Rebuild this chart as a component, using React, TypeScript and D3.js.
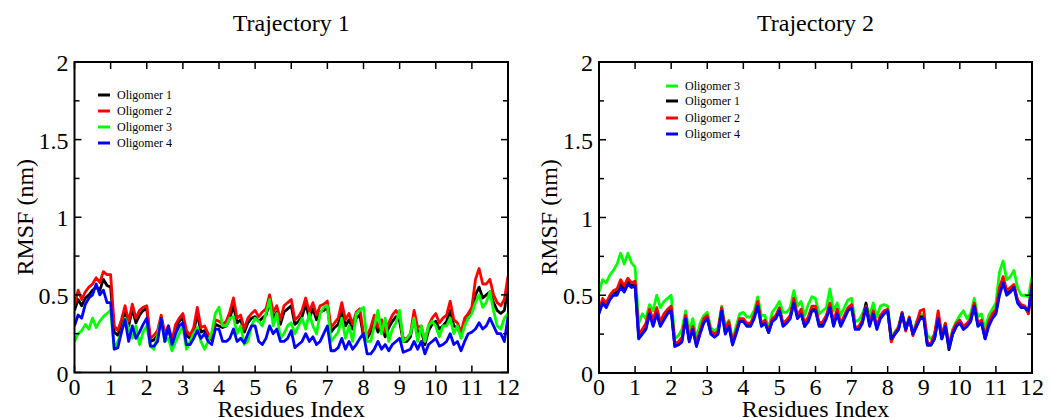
import React from "react";
import * as d3 from "d3";

// Residue index sampled every 0.1 from 0 to 12
const RESIDUE_INDEX: number[] = d3.range(0, 121).map((i) => i / 10);

const X_TICKS = [0, 1, 2, 3, 4, 5, 6, 7, 8, 9, 10, 11, 12];
const Y_MAJOR_TICKS = [0, 0.5, 1, 1.5, 2];
const Y_MINOR_TICKS = [0.25, 0.75, 1.25, 1.75];
const Y_TICK_LABELS = ["0", "0.5", "1", "1.5", "2"];

// Trajectory 1 RMSF (nm)
const T1_OLIGOMER_1 = [
  0.40, 0.47, 0.43, 0.48, 0.50, 0.53, 0.55, 0.53, 0.60, 0.56,
  0.55, 0.26, 0.24, 0.30, 0.40, 0.30, 0.41, 0.32, 0.37, 0.40,
  0.41, 0.20, 0.21, 0.24, 0.35, 0.23, 0.28, 0.19, 0.29, 0.33,
  0.35, 0.24, 0.22, 0.26, 0.38, 0.26, 0.27, 0.23, 0.21, 0.31,
  0.30, 0.29, 0.30, 0.35, 0.43, 0.32, 0.34, 0.26, 0.32, 0.35,
  0.36, 0.33, 0.35, 0.37, 0.45, 0.35, 0.39, 0.31, 0.39, 0.41,
  0.43, 0.31, 0.33, 0.36, 0.44, 0.35, 0.41, 0.34, 0.39, 0.40,
  0.42, 0.26, 0.29, 0.31, 0.40, 0.30, 0.34, 0.28, 0.35, 0.37,
  0.23, 0.22, 0.26, 0.33, 0.26, 0.31, 0.23, 0.29, 0.33, 0.36,
  0.33, 0.20, 0.20, 0.23, 0.36, 0.26, 0.27, 0.18, 0.27, 0.31,
  0.33, 0.28, 0.30, 0.33, 0.40, 0.30, 0.29, 0.24, 0.32, 0.35,
  0.40, 0.50, 0.55, 0.48, 0.50, 0.52, 0.45, 0.40, 0.38, 0.40,
  0.55,
];
const T1_OLIGOMER_2 = [
  0.43, 0.53, 0.47, 0.52, 0.55, 0.57, 0.61, 0.58, 0.65, 0.63,
  0.63, 0.30, 0.27, 0.34, 0.43, 0.33, 0.44, 0.35, 0.40, 0.42,
  0.43, 0.22, 0.24, 0.27, 0.37, 0.25, 0.30, 0.21, 0.31, 0.35,
  0.38, 0.27, 0.24, 0.29, 0.42, 0.29, 0.30, 0.25, 0.22, 0.34,
  0.33, 0.31, 0.33, 0.39, 0.48, 0.35, 0.37, 0.28, 0.35, 0.38,
  0.40, 0.36, 0.39, 0.41, 0.50, 0.39, 0.43, 0.34, 0.43, 0.45,
  0.47, 0.34, 0.36, 0.40, 0.48, 0.39, 0.45, 0.37, 0.43, 0.44,
  0.46, 0.29, 0.32, 0.35, 0.45, 0.34, 0.38, 0.31, 0.39, 0.41,
  0.25, 0.24, 0.29, 0.37, 0.29, 0.34, 0.26, 0.32, 0.37, 0.40,
  0.36, 0.22, 0.22, 0.25, 0.40, 0.29, 0.30, 0.20, 0.30, 0.35,
  0.38, 0.32, 0.35, 0.37, 0.46, 0.34, 0.32, 0.26, 0.35, 0.38,
  0.42, 0.60, 0.67, 0.57, 0.57, 0.60, 0.50, 0.45, 0.43, 0.47,
  0.62,
];
const T1_OLIGOMER_3 = [
  0.20, 0.25, 0.27, 0.31, 0.28, 0.35, 0.29, 0.33, 0.36, 0.38,
  0.40, 0.15, 0.20, 0.26, 0.35, 0.28, 0.22, 0.30, 0.18, 0.26,
  0.30, 0.17, 0.15, 0.24, 0.35, 0.20, 0.22, 0.14, 0.20, 0.25,
  0.30, 0.15, 0.20, 0.25, 0.29, 0.20, 0.15, 0.20, 0.26, 0.38,
  0.42, 0.30, 0.30, 0.35, 0.36, 0.25, 0.30, 0.18, 0.20, 0.30,
  0.35, 0.33, 0.30, 0.38, 0.47, 0.30, 0.38, 0.22, 0.25, 0.30,
  0.32, 0.25, 0.30, 0.35, 0.28, 0.38, 0.30, 0.25, 0.38, 0.42,
  0.43, 0.20, 0.23, 0.26, 0.35, 0.22, 0.30, 0.20, 0.38, 0.40,
  0.42, 0.20, 0.20, 0.30, 0.40, 0.25, 0.35, 0.20, 0.28, 0.32,
  0.40, 0.20, 0.22, 0.25, 0.35, 0.20, 0.30, 0.20, 0.30, 0.33,
  0.30, 0.23, 0.30, 0.30, 0.35, 0.25, 0.30, 0.22, 0.30, 0.35,
  0.38, 0.45, 0.50, 0.42, 0.45, 0.52, 0.40, 0.30, 0.28, 0.35,
  0.38,
];
const T1_OLIGOMER_4 = [
  0.30, 0.37, 0.35, 0.44, 0.48, 0.50, 0.57, 0.50, 0.53, 0.45,
  0.45, 0.15, 0.16, 0.26, 0.34, 0.20, 0.30, 0.22, 0.26, 0.31,
  0.35, 0.17, 0.17, 0.20, 0.35, 0.20, 0.30, 0.18, 0.25, 0.30,
  0.32, 0.18, 0.18, 0.22, 0.27, 0.22, 0.25, 0.20, 0.18, 0.28,
  0.28, 0.20, 0.20, 0.22, 0.28, 0.20, 0.22, 0.19, 0.25, 0.30,
  0.30, 0.20, 0.18, 0.22, 0.30, 0.25, 0.28, 0.20, 0.20, 0.22,
  0.27, 0.16, 0.18, 0.20, 0.25, 0.20, 0.23, 0.18, 0.20, 0.25,
  0.30, 0.14, 0.14, 0.16, 0.22, 0.15, 0.20, 0.15, 0.18, 0.22,
  0.25, 0.12, 0.12, 0.15, 0.20, 0.15, 0.18, 0.14, 0.18, 0.20,
  0.22, 0.13, 0.14, 0.15, 0.20, 0.15, 0.20, 0.12, 0.18, 0.20,
  0.22, 0.17, 0.18, 0.20, 0.25, 0.18, 0.20, 0.14, 0.20, 0.25,
  0.26, 0.28, 0.32, 0.28, 0.30, 0.35, 0.30, 0.25, 0.25, 0.20,
  0.36,
];

// Trajectory 2 RMSF (nm)
const T2_OLIGOMER_1 = [
  0.39, 0.46, 0.43, 0.48, 0.51, 0.52, 0.57, 0.54, 0.59, 0.56,
  0.57, 0.23, 0.26, 0.29, 0.39, 0.31, 0.39, 0.31, 0.35, 0.39,
  0.41, 0.18, 0.19, 0.21, 0.36, 0.21, 0.29, 0.18, 0.26, 0.33,
  0.36, 0.26, 0.24, 0.26, 0.41, 0.26, 0.31, 0.19, 0.26, 0.34,
  0.34, 0.31, 0.31, 0.36, 0.44, 0.31, 0.33, 0.26, 0.34, 0.36,
  0.41, 0.31, 0.33, 0.36, 0.46, 0.36, 0.39, 0.30, 0.34, 0.41,
  0.41, 0.31, 0.31, 0.36, 0.43, 0.31, 0.39, 0.31, 0.36, 0.41,
  0.43, 0.29, 0.29, 0.33, 0.45, 0.31, 0.39, 0.29, 0.36, 0.39,
  0.40, 0.21, 0.25, 0.28, 0.38, 0.28, 0.35, 0.25, 0.30, 0.36,
  0.36, 0.18, 0.18, 0.22, 0.36, 0.22, 0.30, 0.15, 0.25, 0.30,
  0.33, 0.29, 0.31, 0.34, 0.44, 0.31, 0.33, 0.22, 0.31, 0.36,
  0.39, 0.52, 0.60, 0.51, 0.53, 0.56, 0.46, 0.43, 0.42, 0.39,
  0.56,
];
const T2_OLIGOMER_2 = [
  0.40, 0.48, 0.45, 0.50, 0.53, 0.54, 0.60, 0.56, 0.61, 0.58,
  0.59, 0.25, 0.28, 0.32, 0.41, 0.34, 0.42, 0.33, 0.38, 0.41,
  0.43, 0.19, 0.20, 0.23, 0.37, 0.22, 0.30, 0.19, 0.27, 0.35,
  0.37, 0.27, 0.25, 0.27, 0.42, 0.28, 0.33, 0.20, 0.27, 0.35,
  0.35, 0.32, 0.32, 0.37, 0.46, 0.32, 0.34, 0.27, 0.35, 0.37,
  0.42, 0.32, 0.34, 0.37, 0.48, 0.37, 0.41, 0.32, 0.36, 0.43,
  0.43, 0.32, 0.33, 0.37, 0.45, 0.33, 0.41, 0.32, 0.37, 0.42,
  0.44, 0.29, 0.30, 0.34, 0.43, 0.32, 0.40, 0.30, 0.37, 0.40,
  0.41, 0.20, 0.26, 0.29, 0.39, 0.27, 0.36, 0.24, 0.32, 0.40,
  0.41, 0.19, 0.19, 0.25, 0.40, 0.24, 0.32, 0.17, 0.27, 0.32,
  0.34, 0.30, 0.32, 0.35, 0.45, 0.32, 0.34, 0.23, 0.33, 0.38,
  0.41, 0.55, 0.62, 0.53, 0.55, 0.57, 0.47, 0.44, 0.43, 0.38,
  0.58,
];
const T2_OLIGOMER_3 = [
  0.52, 0.60, 0.58, 0.63, 0.66, 0.70, 0.77, 0.70, 0.77, 0.71,
  0.68, 0.32, 0.38, 0.35, 0.44, 0.40, 0.50, 0.42, 0.46, 0.48,
  0.50, 0.22, 0.24, 0.28, 0.40, 0.27, 0.35, 0.22, 0.32, 0.37,
  0.39, 0.29, 0.27, 0.29, 0.43, 0.30, 0.34, 0.21, 0.30, 0.38,
  0.39, 0.36, 0.36, 0.40, 0.49, 0.37, 0.37, 0.28, 0.39, 0.42,
  0.46, 0.39, 0.39, 0.42, 0.53, 0.43, 0.46, 0.37, 0.44, 0.49,
  0.48, 0.38, 0.40, 0.42, 0.54, 0.40, 0.45, 0.37, 0.42, 0.47,
  0.48, 0.33, 0.34, 0.38, 0.44, 0.37, 0.45, 0.36, 0.43, 0.44,
  0.43, 0.24, 0.26, 0.30, 0.39, 0.29, 0.36, 0.26, 0.33, 0.38,
  0.37, 0.24, 0.22, 0.25, 0.38, 0.25, 0.32, 0.18, 0.28, 0.33,
  0.37, 0.40, 0.35, 0.38, 0.48, 0.36, 0.38, 0.28, 0.37, 0.41,
  0.45, 0.65, 0.72, 0.60, 0.62, 0.66, 0.55, 0.50, 0.50, 0.49,
  0.62,
];
const T2_OLIGOMER_4 = [
  0.38, 0.45, 0.42, 0.47, 0.50, 0.50, 0.55, 0.52, 0.57, 0.55,
  0.56, 0.22, 0.25, 0.28, 0.38, 0.30, 0.38, 0.30, 0.34, 0.38,
  0.40, 0.17, 0.18, 0.20, 0.35, 0.20, 0.28, 0.17, 0.25, 0.32,
  0.35, 0.25, 0.23, 0.25, 0.40, 0.25, 0.30, 0.18, 0.25, 0.33,
  0.33, 0.30, 0.30, 0.35, 0.43, 0.30, 0.32, 0.26, 0.33, 0.35,
  0.40, 0.30, 0.32, 0.35, 0.45, 0.35, 0.38, 0.30, 0.33, 0.40,
  0.40, 0.30, 0.30, 0.35, 0.42, 0.30, 0.38, 0.30, 0.35, 0.40,
  0.42, 0.28, 0.28, 0.32, 0.42, 0.30, 0.38, 0.28, 0.35, 0.38,
  0.40, 0.22, 0.25, 0.28, 0.38, 0.28, 0.35, 0.25, 0.30, 0.35,
  0.35, 0.18, 0.18, 0.22, 0.35, 0.22, 0.30, 0.16, 0.25, 0.30,
  0.32, 0.28, 0.30, 0.33, 0.43, 0.30, 0.32, 0.22, 0.30, 0.35,
  0.38, 0.50, 0.58, 0.50, 0.52, 0.55, 0.45, 0.42, 0.42, 0.40,
  0.55,
];

const COLORS: Record<string, string> = {
  "Oligomer 1": "#000000",
  "Oligomer 2": "#ff0000",
  "Oligomer 3": "#00ff00",
  "Oligomer 4": "#0000ff",
};

type Series = { name: string; values: number[] };

const TRAJ1_SERIES: Series[] = [
  { name: "Oligomer 1", values: T1_OLIGOMER_1 },
  { name: "Oligomer 2", values: T1_OLIGOMER_2 },
  { name: "Oligomer 3", values: T1_OLIGOMER_3 },
  { name: "Oligomer 4", values: T1_OLIGOMER_4 },
];
const TRAJ2_SERIES: Series[] = [
  { name: "Oligomer 3", values: T2_OLIGOMER_3 },
  { name: "Oligomer 1", values: T2_OLIGOMER_1 },
  { name: "Oligomer 2", values: T2_OLIGOMER_2 },
  { name: "Oligomer 4", values: T2_OLIGOMER_4 },
];

const FONT = "Liberation Serif, Times New Roman, Times, DejaVu Serif, serif";

type PanelProps = {
  id: string;
  title: string;
  series: Series[];
  left: number;
  right: number;
  top: number;
  bottom: number;
  legendX: number;
  legendY: number[];
};

function Panel({ id, title, series, left, right, top, bottom, legendX, legendY }: PanelProps) {
  const x = d3.scaleLinear().domain([0, 12]).range([left, right]);
  const y = d3.scaleLinear().domain([0, 2]).range([bottom, top]);
  const line = d3
    .line<number>()
    .x((_, i) => x(RESIDUE_INDEX[i]))
    .y((d) => y(d));
  const cx = (left + right) / 2;
  const cy = (top + bottom) / 2;
  const major = 7;
  const minor = 5;
  const textStyle = { fontFamily: FONT };

  return (
    <g>
      <text x={cx} y={31} textAnchor="middle" style={textStyle} fontSize={24}>
        {title}
      </text>

      <defs>
        <clipPath id={`clip-${id}`}>
          <rect x={left} y={top} width={right - left} height={bottom - top} />
        </clipPath>
      </defs>

      <g clipPath={`url(#clip-${id})`}>
        {series.map((s) => (
          <path
            key={s.name}
            d={line(s.values) || ""}
            fill="none"
            stroke={COLORS[s.name]}
            strokeWidth={2.8}
            strokeLinejoin="round"
          />
        ))}
      </g>

      {/* ticks point inward on all four sides */}
      {X_TICKS.map((t) => (
        <g key={`xt${t}`}>
          <line x1={x(t)} x2={x(t)} y1={bottom} y2={bottom - major} stroke="#000" strokeWidth={1.5} />
          <line x1={x(t)} x2={x(t)} y1={top} y2={top + major} stroke="#000" strokeWidth={1.5} />
          <text x={x(t)} y={bottom + 22} textAnchor="middle" style={textStyle} fontSize={24}>
            {t}
          </text>
        </g>
      ))}
      {Y_MAJOR_TICKS.map((t, i) => (
        <g key={`yt${t}`}>
          <line x1={left} x2={left + major} y1={y(t)} y2={y(t)} stroke="#000" strokeWidth={1.5} />
          <line x1={right} x2={right - major} y1={y(t)} y2={y(t)} stroke="#000" strokeWidth={1.5} />
          <text x={left - 6} y={y(t) + 9} textAnchor="end" style={textStyle} fontSize={24}>
            {Y_TICK_LABELS[i]}
          </text>
        </g>
      ))}
      {Y_MINOR_TICKS.map((t) => (
        <g key={`ym${t}`}>
          <line x1={left} x2={left + minor} y1={y(t)} y2={y(t)} stroke="#000" strokeWidth={1.5} />
          <line x1={right} x2={right - minor} y1={y(t)} y2={y(t)} stroke="#000" strokeWidth={1.5} />
        </g>
      ))}

      <rect
        x={left}
        y={top}
        width={right - left}
        height={bottom - top}
        fill="none"
        stroke="#000"
        strokeWidth={2}
      />

      <text
        transform={`translate(${left - 42},${cy}) rotate(-90)`}
        textAnchor="middle"
        style={textStyle}
        fontSize={24}
      >
        RMSF (nm)
      </text>
      <text x={cx} y={417} textAnchor="middle" style={textStyle} fontSize={24}>
        Residues Index
      </text>

      {series.map((s, i) => (
        <g key={`lg${s.name}`}>
          <line
            x1={legendX}
            x2={legendX + 12}
            y1={legendY[i]}
            y2={legendY[i]}
            stroke={COLORS[s.name]}
            strokeWidth={3}
          />
          <text x={legendX + 19} y={legendY[i] + 4} style={textStyle} fontSize={12}>
            {s.name}
          </text>
        </g>
      ))}
    </g>
  );
}

export default function App() {
  return (
    <svg
      width={1049}
      height={418}
      style={{ position: "absolute", left: 0, top: 0, background: "#fff" }}
    >
      <rect width={1049} height={418} fill="#fff" />
      <Panel
        id="traj1"
        title="Trajectory 1"
        series={TRAJ1_SERIES}
        left={74.5}
        right={508}
        top={62}
        bottom={372.5}
        legendX={98}
        legendY={[95, 111, 127, 143]}
      />
      <Panel
        id="traj2"
        title="Trajectory 2"
        series={TRAJ2_SERIES}
        left={599}
        right={1032}
        top={62}
        bottom={373}
        legendX={666}
        legendY={[86, 101, 118, 134]}
      />
    </svg>
  );
}
